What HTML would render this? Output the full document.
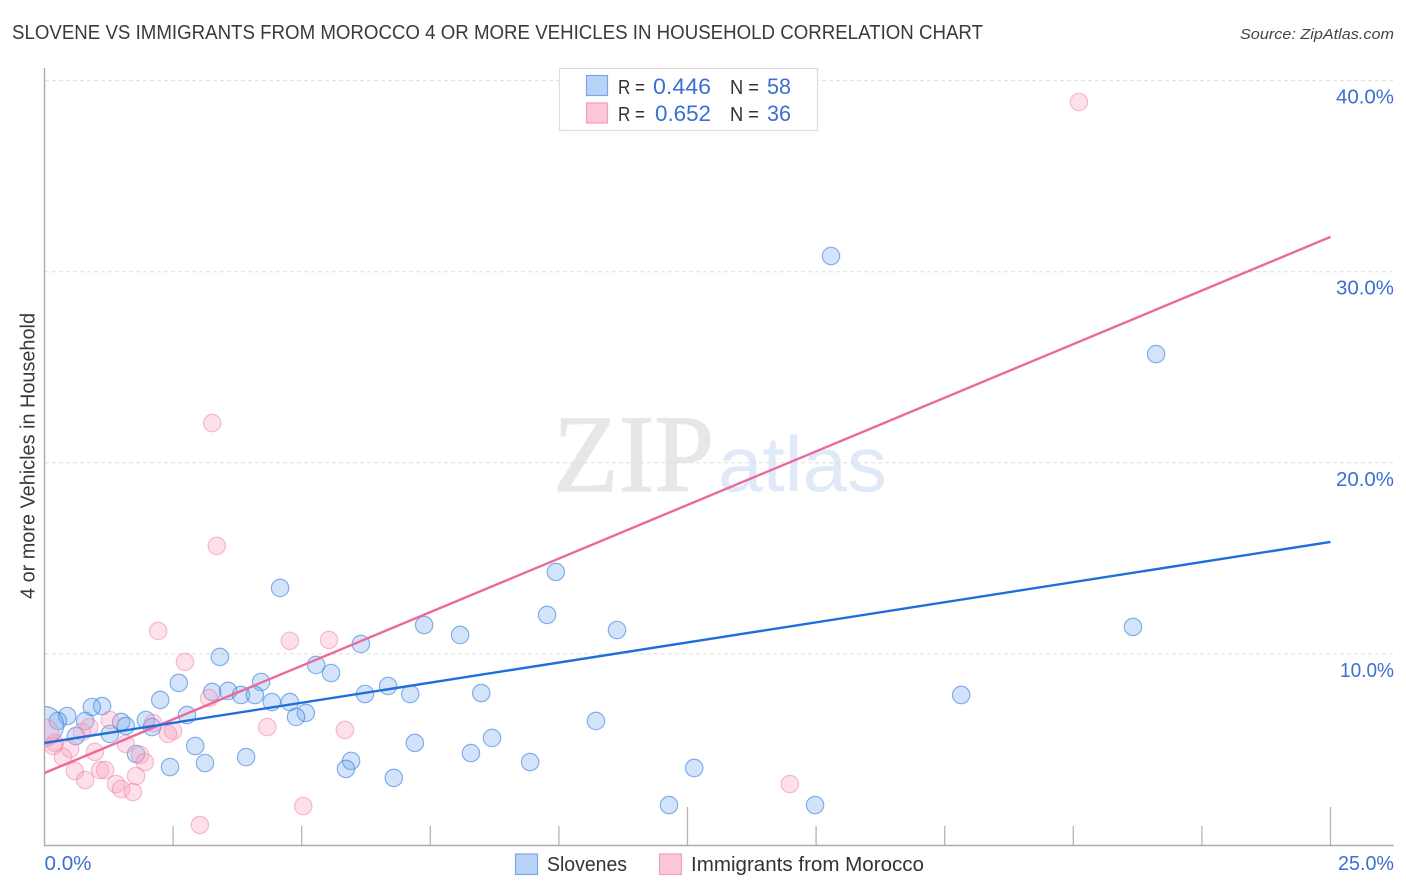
<!DOCTYPE html>
<html lang="en">
<head>
<meta charset="utf-8">
<title>Slovene vs Immigrants from Morocco Correlation Chart</title>
<style>
html,body{margin:0;padding:0;background:#fff;width:1406px;height:892px;overflow:hidden}
svg{display:block;font-family:"Liberation Sans",sans-serif}
</style>
</head>
<body>
<svg id="chart" xmlns="http://www.w3.org/2000/svg" width="1406" height="892" viewBox="0 0 1406 892">
  <defs><clipPath id="plot-clip"><rect x="45" y="60" width="1350" height="785"/></clipPath></defs>
  <rect x="0" y="0" width="1406" height="892" fill="#ffffff"/>
  <text x="12" y="39" font-size="20" fill="#3a3a3a" textLength="971" lengthAdjust="spacingAndGlyphs">SLOVENE VS IMMIGRANTS FROM MOROCCO 4 OR MORE VEHICLES IN HOUSEHOLD CORRELATION CHART</text>
  <text x="1394" y="39" font-size="15" font-style="italic" fill="#444444" text-anchor="end" textLength="154" lengthAdjust="spacingAndGlyphs">Source: ZipAtlas.com</text>
  <g>
    <text x="553" y="491" font-family="'Liberation Serif', serif" font-size="110" fill="#e7e7e7" stroke="#e7e7e7" stroke-width="1.2" textLength="161" lengthAdjust="spacingAndGlyphs">ZIP</text>
    <text x="718" y="491" font-family="'Liberation Sans', sans-serif" font-size="78" fill="#dfe9f8" textLength="169" lengthAdjust="spacingAndGlyphs">atlas</text>
  </g>
  <g id="grid"></g>
  <g id="axes"></g>
  <g id="blue-points" clip-path="url(#plot-clip)"></g>
  <g id="pink-points" clip-path="url(#plot-clip)"></g>
  <g id="trends"></g>
  <text transform="translate(34.5,599) rotate(-90)" font-size="20" fill="#3a3a3a" textLength="286" lengthAdjust="spacingAndGlyphs">4 or more Vehicles in Household</text>
  <g>
    <rect x="559.5" y="68.5" width="258" height="62" fill="#ffffff" stroke="#dcdcdc" stroke-width="1.2"/>
    <rect x="586.5" y="75.5" width="21" height="20" fill="#b8d3f7" stroke="#7aa8e4" stroke-width="1.2"/>
    <rect x="586.5" y="103" width="21" height="20" fill="#fcc8d9" stroke="#f1a0bc" stroke-width="1.2"/>
    <text x="618" y="94" font-size="20" fill="#333333" textLength="27" lengthAdjust="spacingAndGlyphs">R =</text>
    <text x="653" y="94" font-size="22" fill="#3a70d0" textLength="58" lengthAdjust="spacingAndGlyphs">0.446</text>
    <text x="730" y="94" font-size="20" fill="#333333" textLength="29" lengthAdjust="spacingAndGlyphs">N =</text>
    <text x="767" y="94" font-size="22" fill="#3a70d0" textLength="24" lengthAdjust="spacingAndGlyphs">58</text>
    <text x="618" y="121" font-size="20" fill="#333333" textLength="27" lengthAdjust="spacingAndGlyphs">R =</text>
    <text x="655" y="121" font-size="22" fill="#3a70d0" textLength="56" lengthAdjust="spacingAndGlyphs">0.652</text>
    <text x="730" y="121" font-size="20" fill="#333333" textLength="29" lengthAdjust="spacingAndGlyphs">N =</text>
    <text x="767" y="121" font-size="22" fill="#3a70d0" textLength="24" lengthAdjust="spacingAndGlyphs">36</text>
  </g>
  <g>
    <rect x="515.5" y="854" width="22" height="20.5" fill="#b8d3f7" stroke="#7aa8e4" stroke-width="1.2"/>
    <text x="547" y="871" font-size="20" fill="#333333" textLength="80" lengthAdjust="spacingAndGlyphs">Slovenes</text>
    <rect x="659.5" y="854" width="22" height="20.5" fill="#fcc8d9" stroke="#f1a0bc" stroke-width="1.2"/>
    <text x="691" y="871" font-size="20" fill="#333333" textLength="233" lengthAdjust="spacingAndGlyphs">Immigrants from Morocco</text>
  </g>
</svg>
<script>
const yTickValues = [10, 20, 30, 40];
const yTickLabels = ["10.0%", "20.0%", "30.0%", "40.0%"];
const xTickValues = [0, 2.5, 5, 7.5, 10, 12.5, 15, 17.5, 20, 22.5, 25];
const xMajorTicks = [12.5, 25];
const xEndValues = [0, 25];
const xEndLabels = ["0.0%", "25.0%"];

const blueX = [15.29,21.61,9.94,4.58,9.77,11.13,7.38,8.08,6.15,21.16,3.41,5.28,5.57,2.61,4.21,6.68,3.26,3.57,3.82,4.09,2.25,4.42,4.77,6.23,7.11,8.49,17.82,1.12,0.92,0.44,0.26,0.79,2.77,5.08,4.89,10.72,1.97,1.49,1.58,2.09,1.27,0.61,7.20,2.93,8.70,1.78,8.29,3.92,5.96,5.86,3.12,2.44,9.44,12.63,6.79,12.14,14.98,0];
const blueY = [30.82,25.69,14.29,13.45,12.04,11.25,11.51,10.99,10.52,11.41,9.84,9.42,9.00,8.48,8.53,8.32,8.01,8.06,7.85,7.85,7.59,7.48,7.48,7.90,7.90,7.95,7.85,7.27,7.22,6.75,6.49,6.49,6.80,6.91,6.70,6.49,6.54,6.44,6.23,6.17,5.81,5.70,5.34,5.18,5.60,4.76,4.81,4.60,4.40,3.98,4.29,4.08,4.34,4.03,3.51,2.09,2.09,6.25];
const blueWeight = [1,1,1,1,1,1,1,1,1,1,1,1,1,1,1,1,1,1,1,1,1,1,1,1,1,1,1,1,1,1,1,1,1,1,1,1,1,1,1,1,1,1,1,1,1,1,1,1,1,1,1,1,1,1,1,1,1,4.8];

const pinkX = [20.11,3.26,3.35,2.21,4.77,5.53,2.73,3.20,5.84,4.33,1.27,0.87,0.73,2.11,2.50,2.40,1.58,0.98,0.20,0.17,0.50,0.36,0.59,0.79,1.08,1.18,1.78,1.39,1.49,1.72,1.86,1.95,14.49,5.03,3.02,0];
const pinkY = [38.88,22.08,15.65,11.20,10.68,10.73,9.58,7.69,6.02,6.17,6.54,6.17,5.91,6.38,5.97,5.81,5.29,4.87,5.34,5.18,5.02,4.60,3.87,3.40,3.92,3.92,3.61,3.19,2.93,2.77,4.71,4.34,3.19,2.04,1.05,5.86];
const pinkWeight = [1,1,1,1,1,1,1,1,1,1,1,1,1,1,1,1,1,1,1,1,1,1,1,1,1,1,1,1,1,1,1,1,1,1,1,2.6];

const blueTrendEnds = [5.34, 15.86];
const pinkTrendEnds = [3.77, 31.82];

const NS = "http://www.w3.org/2000/svg";
function xScale(v) { return 44.5 + v * 51.44; }
function yScale(v) { return 845 - v * 19.11; }
function make(tag, parent, attrs) {
  const el = document.createElementNS(NS, tag);
  Object.keys(attrs).forEach(function (k) { el.setAttribute(k, attrs[k]); });
  parent.appendChild(el);
  return el;
}

const grid = document.getElementById("grid");
const axes = document.getElementById("axes");
yTickValues.forEach(function (v, i) {
  const line = make("line", grid, { x1: 45, x2: 1394, y1: yScale(v), y2: yScale(v), stroke: "#dddddd", "stroke-width": 1, "stroke-dasharray": "4 3" });
  
  
  const label = make("text", axes, { x: 1394, y: yScale(v) + 23, "font-size": 20, fill: "#3a70d0", "text-anchor": "end", textLength: yTickLabels[i].charAt(0) === "1" ? 54 : 58, lengthAdjust: "spacingAndGlyphs" });
  label.textContent = yTickLabels[i];
  
  
});

const yAxisLine = make("line", axes, { x1: 44.5, x2: 44.5, y1: 68, y2: 845.5, stroke: "#ababab", "stroke-width": 1.4 });


const xAxisLine = make("line", axes, { x1: 44, x2: 1394, y1: 845.5, y2: 845.5, stroke: "#ababab", "stroke-width": 1.4 });



xTickValues.forEach(function (v) {
  if (v === 0) return;
  const major = xMajorTicks.indexOf(v) >= 0;
  const tick = make("line", axes, { x1: xScale(v), x2: xScale(v), y1: major ? 807 : 826, y2: 845, stroke: "#b5b5b5", "stroke-width": 1.3 });
  
  
});

xEndValues.forEach(function (v, i) {
  const label = make("text", axes, { x: i === 0 ? xScale(v) : xScale(v) + 63.5, y: 870, "font-size": 20, fill: "#3a70d0", "text-anchor": i === 0 ? "start" : "end", textLength: i === 0 ? 47 : 56, lengthAdjust: "spacingAndGlyphs" });
  label.textContent = xEndLabels[i];
  
  
});

const blueGroup = document.getElementById("blue-points");
blueX.forEach(function (v, i) {
  const c = make("circle", blueGroup, { cx: xScale(v), cy: yScale(blueY[i]), r: 8.7 * Math.sqrt(blueWeight[i]), fill: "rgba(110,165,240,0.30)", stroke: "rgba(60,130,220,0.60)", "stroke-width": 1.2 });
  
  
});

const pinkGroup = document.getElementById("pink-points");
pinkX.forEach(function (v, i) {
  const c = make("circle", pinkGroup, { cx: xScale(v), cy: yScale(pinkY[i]), r: 8.7 * Math.sqrt(pinkWeight[i]), fill: "rgba(248,160,190,0.33)", stroke: "rgba(238,130,170,0.50)", "stroke-width": 1.2 });
  
  
});

const trends = document.getElementById("trends");
const pinkTrend = make("line", trends, { x1: xScale(0), y1: yScale(pinkTrendEnds[0]), x2: xScale(25), y2: yScale(pinkTrendEnds[1]), stroke: "#ea6a9b", "stroke-width": 2.4 });


const blueTrend = make("line", trends, { x1: xScale(0), y1: yScale(blueTrendEnds[0]), x2: xScale(25), y2: yScale(blueTrendEnds[1]), stroke: "#1f6fdb", "stroke-width": 2.4 });


</script>
</body>
</html>
